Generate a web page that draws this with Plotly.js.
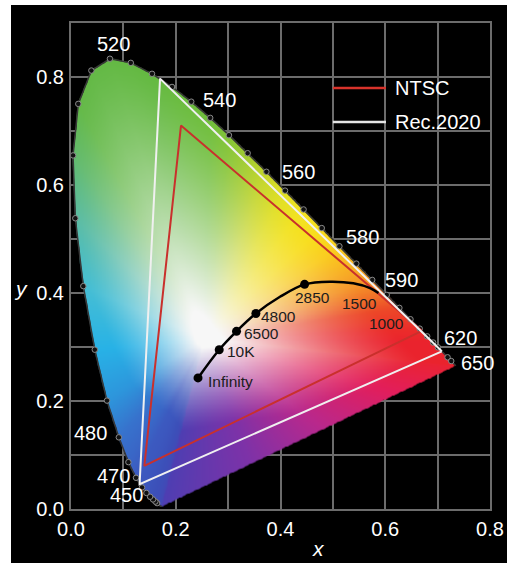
<!DOCTYPE html>
<html><head><meta charset="utf-8">
<script src="https://cdn.plot.ly/plotly-3.0.1.min.js"></script>
<style>
html,body{margin:0;padding:0;background:#ffffff;}
#chart{position:absolute;left:11px;top:5px;width:496px;height:558px;}
</style></head><body><div id="chart"></div>
<script>
// ---------- DATA ----------
// CIE 1931 spectral locus (wavelength nm, x, y)
const wavelengths = [380,385,390,395,400,405,410,415,420,425,430,435,440,445,450,455,460,465,470,475,480,485,490,495,500,505,510,515,520,525,530,535,540,545,550,555,560,565,570,575,580,585,590,595,600,605,610,615,620,625,630,635,640,645,650,655,660,665,670,680,690,700];
const locusX = [0.1741,0.1740,0.1738,0.1736,0.1733,0.1730,0.1726,0.1721,0.1714,0.1703,0.1689,0.1669,0.1644,0.1611,0.1566,0.1510,0.1440,0.1355,0.1241,0.1096,0.0913,0.0687,0.0454,0.0235,0.0082,0.0039,0.0139,0.0389,0.0743,0.1142,0.1547,0.1929,0.2296,0.2658,0.3016,0.3373,0.3731,0.4087,0.4441,0.4788,0.5125,0.5448,0.5752,0.6029,0.6270,0.6482,0.6658,0.6801,0.6915,0.7006,0.7079,0.7140,0.7190,0.7230,0.7260,0.7283,0.7300,0.7311,0.7320,0.7334,0.7344,0.7347];
const locusY = [0.0050,0.0050,0.0049,0.0049,0.0048,0.0048,0.0048,0.0048,0.0051,0.0058,0.0069,0.0086,0.0109,0.0138,0.0177,0.0227,0.0297,0.0399,0.0578,0.0868,0.1327,0.2007,0.2950,0.4127,0.5384,0.6548,0.7502,0.8120,0.8338,0.8262,0.8059,0.7816,0.7543,0.7243,0.6923,0.6589,0.6245,0.5896,0.5547,0.5202,0.4866,0.4544,0.4242,0.3965,0.3725,0.3514,0.3340,0.3197,0.3083,0.2993,0.2920,0.2859,0.2809,0.2770,0.2740,0.2717,0.2700,0.2689,0.2680,0.2666,0.2656,0.2653];
const labelledWavelengths = [520,540,560,580,590,620,650,480,470,450];

// Gamut triangles
const ntscX = [0.67,0.21,0.14,0.67];
const ntscY = [0.33,0.71,0.08,0.33];
const rec2020X = [0.708,0.170,0.131,0.708];
const rec2020Y = [0.292,0.797,0.046,0.292];

// Planckian locus
const planckX = [0.2425,0.283,0.316,0.353,0.399,0.446,0.4945,0.539,0.571,0.587];
const planckY = [0.2427,0.295,0.329,0.362,0.393,0.416,0.421,0.418,0.409,0.400];
const tempLabels = ['Infinity','10K','6500','4800','2850','1500','1000'];
const tempPointX = [0.2425,0.283,0.316,0.353,0.446,0.587,0.652];
const tempPointY = [0.2427,0.295,0.329,0.362,0.416,0.400,0.344];
const tempMarked = [true,true,true,true,true,false,false];

// Axis ticks
const xTickVals = [0,0.1,0.2,0.3,0.4,0.5,0.6,0.7,0.8];
const xTickText = ['0.0','','0.2','','0.4','','0.6','','0.8'];
const yTickVals = [0,0.1,0.2,0.3,0.4,0.5,0.6,0.7,0.8,0.9];
const yTickText = ['0.0','','0.2','','0.4','','0.6','','0.8',''];

const legendNames = ['NTSC','Rec.2020'];

// ---------- STYLE ----------
const FONT = 'Liberation Sans, Arial, Helvetica, sans-serif';
const GRID = '#6c6c6c';
const RED = '#c9302c';
const WHITE_LINE = '#f0f0f0';
const WL_OFFSETS = {520:[4,15],540:[28,2],560:[32,0],580:[23,9],590:[29,0],620:[27,5],650:[26,-2],480:[-28,4],470:[-23,2],450:[-27,4]};
const T_OFFSETS = [[32,-3.5],[21.5,-1.5],[25,-2],[23,-3.4],[8,-12.7],[-19,-10.7],[-25.5,0]];
const WHITE_PT = [0.255,0.315];
const WHITE_COL = [247,247,247];
// rendering palette for the colour fill: [wavelength, rgb, saturation gain]
const EDGE_STOPS = [[380,[78,62,178],1.8],[450,[60,80,185],1.9],[470,[60,90,192],1.9],[480,[55,115,205],1.6],[485,[45,150,220],1.35],[490,[40,178,230],1.2],[495,[70,190,212],1.05],[500,[90,188,165],1.0],[505,[98,186,110],1.0],[510,[100,185,72],1.0],[530,[100,185,65],1.0],[545,[112,190,60],1.0],[552,[140,198,52],1.0],[558,[185,210,45],1.0],[563,[215,220,40],1.05],[568,[240,228,35],1.1],[575,[248,222,30],1.1],[580,[250,205,30],1.08],[585,[248,178,35],1.08],[590,[245,150,40],1.1],[595,[240,110,40],1.12],[600,[236,72,40],1.15],[610,[235,45,42],1.15],[620,[234,35,45],1.15],[700,[234,35,45],1.15]];
const PURPLE_STOPS = [[0,[234,35,50],1.15],[0.2,[226,30,92],1.12],[0.45,[185,40,140],1.2],[0.7,[125,50,168],1.5],[1,[78,62,178],1.8]];

function lerpN(a,b,u){return a.map((v,i)=>v+(b[i]-v)*u);}
function stopVal(stops,v){
  const pack=s=>[s[1][0],s[1][1],s[1][2],s[2]];
  if(v<=stops[0][0])return pack(stops[0]);
  for(let i=1;i<stops.length;i++){
    if(v<=stops[i][0]){const u=(v-stops[i-1][0])/(stops[i][0]-stops[i-1][0]);return lerpN(pack(stops[i-1]),pack(stops[i]),u);}
  }
  return pack(stops[stops.length-1]);
}

// Build gamut image (colour fill inside the locus)
function buildGamut(){
  const n=locusX.length;
  const vc=wavelengths.map(w=>stopVal(EDGE_STOPS,w));
  const NB=2880, rEdge=new Float64Array(NB), cEdge=new Array(NB);
  for(let k=0;k<NB;k++){
    const th=k/NB*2*Math.PI, dx=Math.cos(th), dy=Math.sin(th);
    let best=Infinity,col=[247,247,247,1];
    for(let i=0;i<n;i++){
      const j=(i+1)%n;
      const ex=locusX[j]-locusX[i], ey=locusY[j]-locusY[i];
      const den=dx*ey-dy*ex;
      if(Math.abs(den)<1e-14)continue;
      const ax=locusX[i]-WHITE_PT[0], ay=locusY[i]-WHITE_PT[1];
      const t=(ax*ey-ay*ex)/den, u=(ax*dy-ay*dx)/den;
      if(t>0&&u>=0&&u<=1&&t<best){best=t;col=(i===n-1)?stopVal(PURPLE_STOPS,u):lerpN(vc[i],vc[j],u);}
    }
    rEdge[k]=best;cEdge[k]=col;
  }
  const STEP=0.0015, NX=535, NY=601, z=[];
  for(let r=0;r<NY;r++){
    const y=r*STEP,row=new Array(NX);
    for(let c=0;c<NX;c++){
      const x=c*STEP, dx=x-WHITE_PT[0], dy=y-WHITE_PT[1];
      let th=Math.atan2(dy,dx); if(th<0)th+=2*Math.PI;
      const kf=th/(2*Math.PI)*NB, k0=Math.floor(kf)%NB, k1=(k0+1)%NB, f=kf-Math.floor(kf);
      const re=rEdge[k0]*(1-f)+rEdge[k1]*f;
      const rr=Math.hypot(dx,dy);
      const t=rr/re;
      const alpha=Math.min(1,Math.max(0,(re-rr)/(STEP*1.2)+0.5));
      if(alpha<=0){row[c]=[0,0,0,0];continue;}
      const e=lerpN(cEdge[k0],cEdge[k1],f);
      const u=Math.min(1,Math.max(0,(t*e[3]-0.1)/0.9));
      const s=1-Math.pow(1-u,1.3);
      row[c]=[WHITE_COL[0]+(e[0]-WHITE_COL[0])*s,WHITE_COL[1]+(e[1]-WHITE_COL[1])*s,WHITE_COL[2]+(e[2]-WHITE_COL[2])*s,alpha];
    }
    z.push(row);
  }
  return {type:'image',z:z,colormodel:'rgba',x0:0,dx:STEP,y0:0,dy:STEP,hoverinfo:'skip',zsmooth:'fast'};
}

const dotIdx = wavelengths.map((w,i)=>i).filter(i=>wavelengths[i]>=440&&wavelengths[i]<=650&&(wavelengths[i]<=625||wavelengths[i]===640||wavelengths[i]===650));

const traces = [
  buildGamut(),
  {type:'scatter',mode:'lines',x:locusX,y:locusY,line:{color:'#383838',width:1.5},hoverinfo:'skip',showlegend:false},
  {type:'scatter',mode:'markers',x:dotIdx.map(i=>locusX[i]),y:dotIdx.map(i=>locusY[i]),marker:{size:5.5,color:'#111111',line:{color:'#8a8a8a',width:1}},hoverinfo:'skip',showlegend:false},
  {type:'scatter',mode:'lines',name:legendNames[0],x:ntscX,y:ntscY,line:{color:RED,width:2},showlegend:false},
  {type:'scatter',mode:'lines',name:legendNames[1],x:rec2020X,y:rec2020Y,line:{color:WHITE_LINE,width:2},showlegend:false},
  {type:'scatter',mode:'lines',x:planckX,y:planckY,line:{color:'#000000',width:2.5,shape:'spline'},showlegend:false},
  {type:'scatter',mode:'markers',x:tempPointX.filter((v,i)=>tempMarked[i]),y:tempPointY.filter((v,i)=>tempMarked[i]),marker:{size:9,color:'#000000'},showlegend:false}
];

const annotations = [];
labelledWavelengths.forEach(w=>{
  const i=wavelengths.indexOf(w);
  annotations.push({x:locusX[i],y:locusY[i],xref:'x',yref:'y',text:String(w),showarrow:false,xshift:WL_OFFSETS[w][0],yshift:WL_OFFSETS[w][1],font:{family:FONT,size:20,color:'#ffffff'},xanchor:'center',yanchor:'middle'});
});
tempLabels.forEach((t,i)=>{
  annotations.push({x:tempPointX[i],y:tempPointY[i],xref:'x',yref:'y',text:t,showarrow:false,xshift:T_OFFSETS[i][0],yshift:T_OFFSETS[i][1],font:{family:FONT,size:15.5,color:'#1c1c1c'},xanchor:'center',yanchor:'middle'});
});
// legend texts
annotations.push({x:0.6148,y:0.7796,xref:'x',yref:'y',text:legendNames[0],showarrow:false,xanchor:'left',yanchor:'middle',font:{family:FONT,size:20,color:'#ffffff'}});
annotations.push({x:0.6148,y:0.7166,xref:'x',yref:'y',text:legendNames[1],showarrow:false,xanchor:'left',yanchor:'middle',font:{family:FONT,size:20,color:'#ffffff'}});
// axis titles (paper coordinates, outside the plot area)
annotations.push({x:0.590,y:-0.0823,xref:'paper',yref:'paper',text:'<i>x</i>',showarrow:false,xanchor:'center',yanchor:'middle',font:{family:FONT,size:21,color:'#ffffff'}});
annotations.push({x:-0.1193,y:0.4527,xref:'paper',yref:'paper',text:'<i>y</i>',showarrow:false,xanchor:'center',yanchor:'middle',font:{family:FONT,size:21,color:'#ffffff'}});

const shapes = [
  {type:'line',xref:'x',yref:'y',x0:0.500,x1:0.6014,y0:0.7796,y1:0.7796,line:{color:'#d8332b',width:2.5}},
  {type:'line',xref:'x',yref:'y',x0:0.500,x1:0.6014,y0:0.7166,y1:0.7166,line:{color:'#e4e4e4',width:2.5}}
];

const axisCommon = {showgrid:true,gridcolor:GRID,gridwidth:2,showline:true,mirror:true,linecolor:GRID,linewidth:2,zeroline:false,ticks:'',tickmode:'array',tickfont:{family:FONT,size:20,color:'#ffffff'},autorange:false,fixedrange:true};

const layout = {
  width:496,height:558,
  margin:{l:60,r:17,t:18,b:54},
  paper_bgcolor:'#000000',plot_bgcolor:'#000000',
  showlegend:false,hovermode:false,
  xaxis:Object.assign({},axisCommon,{range:[0,0.8],tickvals:xTickVals,ticktext:xTickText,ticklabelstandoff:1}),
  yaxis:Object.assign({},axisCommon,{range:[0,0.9],tickvals:yTickVals,ticktext:yTickText,scaleanchor:false,ticklabelstandoff:1}),
  annotations:annotations,shapes:shapes
};

Plotly.newPlot('chart',traces,layout,{staticPlot:true,displayModeBar:false});
</script></body></html>
